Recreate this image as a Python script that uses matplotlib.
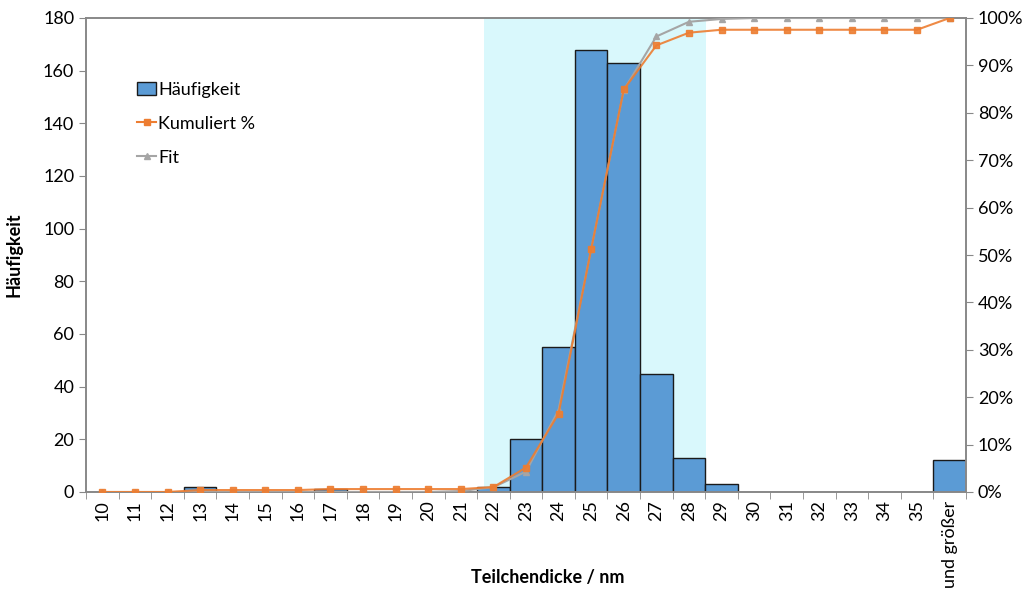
import numpy as np
import matplotlib.pyplot as plt
from matplotlib.patches import Patch
from matplotlib.lines import Line2D
from matplotlib.ticker import PercentFormatter

plt.rcParams['font.family'] = ['Lato', 'DejaVu Sans']

# Klassen (Teilchendicke in nm) und Häufigkeiten
klassen = [str(k) for k in range(10, 36)] + ['und größer']
haeufigkeit = [0, 0, 0, 2, 0, 0, 0, 1, 0, 0, 0, 0, 2, 20, 55, 168, 163, 45, 13, 3,
               0, 0, 0, 0, 0, 0, 12]
# Fit (Normalverteilung, kumuliert) in %
fit = [0, 0, 0, 0, 0, 0, 0, 0, 0, 0, 0, 0.2, 1.0, 4.3, 17.3, 51.3, 84.8, 96.1, 99.2, 99.8,
       100, 100, 100, 100, 100, 100, 100]
# markierter Bereich (in Klassenindex)
bereich = (11.71, 18.52)

kumuliert = np.cumsum(haeufigkeit) / np.sum(haeufigkeit) * 100
x = np.arange(len(klassen))

fig = plt.figure(figsize=(10.34, 6.0), dpi=100)
ax = fig.add_axes([0.0832, 0.18, 0.8510, 0.79])
ax2 = ax.twinx()

ax.axvspan(*bereich, color='#D9F8FC', zorder=0, lw=0)
ax.bar(x, haeufigkeit, width=1.0, color='#5B9BD5', edgecolor='#1A1A1A', linewidth=1.0, zorder=2)

ax2.plot(x, fit, color='#A5A5A5', marker='^', markersize=5, linewidth=1.5, zorder=3)
ax2.plot(x, kumuliert, color='#ED7D31', marker='s', markersize=4.5, linewidth=1.5,
         alpha=0.9, zorder=4)

ax.set_xlim(-0.5, len(klassen) - 0.5)
ax.set_ylim(0, 180)
ax.set_yticks(range(0, 181, 20))
ax2.set_ylim(0, 100)
ax2.set_yticks(range(0, 101, 10))
ax2.yaxis.set_major_formatter(PercentFormatter(decimals=0))

ax.set_xticks(x)
ax.set_xticklabels(klassen, rotation=90)
ax.set_xticks(np.arange(-0.5, len(klassen), 1.0), minor=True)
ax.tick_params(axis='x', which='major', length=0, labelsize=13, pad=6)
ax.tick_params(axis='x', which='minor', length=5, color='#888888', direction='out')
ax.tick_params(axis='y', labelsize=13, length=5, color='#888888')
ax2.tick_params(axis='y', labelsize=13, length=5, color='#888888')

ax.set_zorder(ax2.get_zorder() - 1)
ax.patch.set_visible(True)
ax2.patch.set_visible(False)

for a in (ax, ax2):
    for s in a.spines.values():
        s.set_color('#888888')
        s.set_linewidth(1.2)

ax.set_ylabel('Häufigkeit', fontsize=13, fontweight='bold')
ax.yaxis.set_label_coords(-0.072, 0.5)
fig.text(0.530, 0.037, 'Teilchendicke / nm', fontsize=13, fontweight='bold',
         ha='center', va='center')

handles = [
    Patch(facecolor='#5B9BD5', edgecolor='#1A1A1A', linewidth=1.0),
    Line2D([], [], color='#ED7D31', marker='s', markersize=4, linewidth=1.5),
    Line2D([], [], color='#A5A5A5', marker='^', markersize=4.5, linewidth=1.5),
]
ax2.legend(handles, ['Häufigkeit', 'Kumuliert %', 'Fit'], loc='upper left',
           bbox_to_anchor=(0.04, 0.9), frameon=False, fontsize=13,
           handlelength=1.0, handletextpad=0.15, labelspacing=1.0)

fig.savefig('out.png', dpi=100)
